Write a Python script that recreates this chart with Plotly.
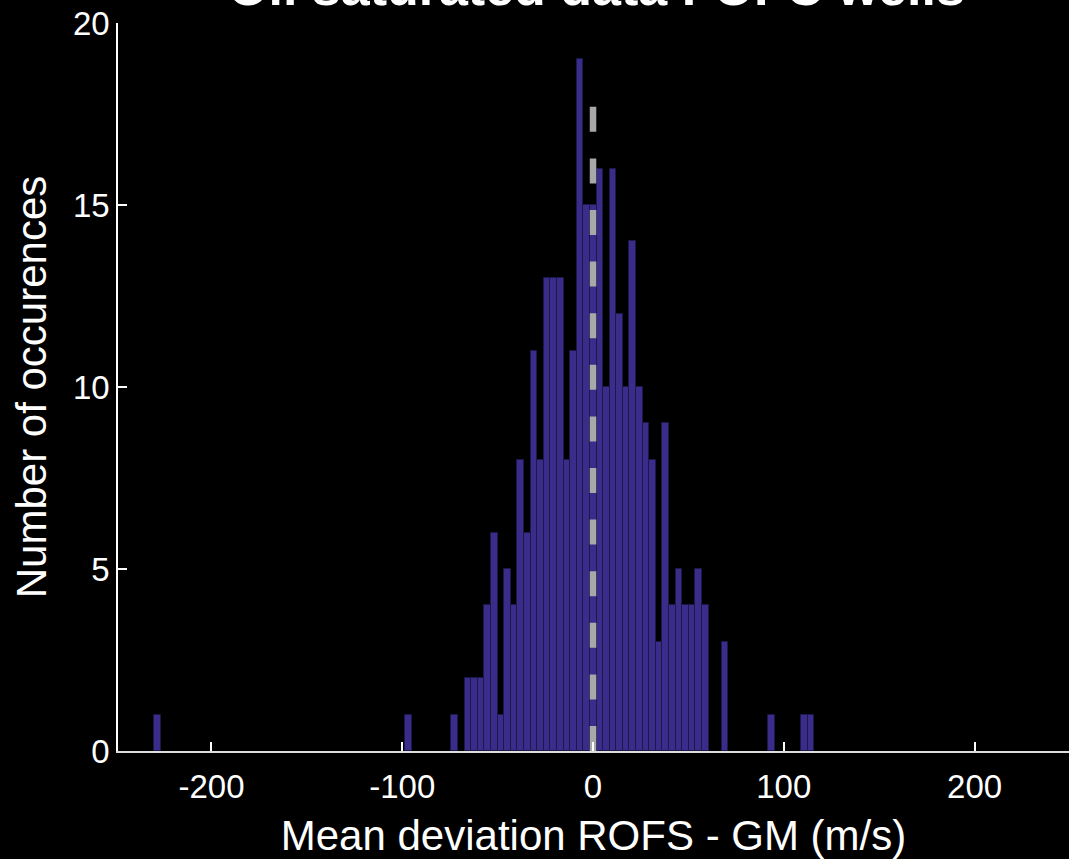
import plotly.graph_objects as go

# ---- data ----
bin_start = -229.93      # left edge of first bin (m/s)
bin_width = 3.459        # histogram bin width (m/s)
counts = [
    1, 0, 0, 0, 0, 0, 0, 0, 0, 0,
    0, 0, 0, 0, 0, 0, 0, 0, 0, 0,
    0, 0, 0, 0, 0, 0, 0, 0, 0, 0,
    0, 0, 0, 0, 0, 0, 0, 0, 1, 0,
    0, 0, 0, 0, 0, 1, 0, 2, 2, 2,
    4, 6, 1, 5, 4, 8, 6, 11, 8, 13,
    13, 13, 8, 11, 19, 15, 15, 16, 10, 16,
    12, 10, 14, 10, 9, 8, 3, 9, 4, 5,
    4, 4, 5, 4, 0, 0, 3, 0, 0, 0,
    0, 0, 0, 1, 0, 0, 0, 0, 1, 1,
]
ref_x = [0, 0]
ref_y = [0, 17.7]
x_ticks = [-200, -100, 0, 100, 200]
x_tick_labels = ["-200", "-100", "0", "100", "200"]
y_ticks = [0, 5, 10, 15, 20]
title_text = "Oil saturated data FOFC wells"
x_title = "Mean deviation ROFS - GM (m/s)"
y_title = "Number of occurences"

centers = [bin_start + bin_width * (k + 0.5) for k in range(len(counts))]
edge_widths = [1 if c > 0 else 0 for c in counts]

FONT = "Liberation Sans, Arial, sans-serif"

fig = go.Figure()
fig.add_trace(go.Bar(
    x=centers, y=counts, width=bin_width,
    marker=dict(color="#392c8a", line=dict(color="#1c1848", width=edge_widths)),
    showlegend=False,
))
fig.add_trace(go.Scatter(
    x=ref_x, y=ref_y, mode="lines",
    line=dict(color="#a8a8a8", width=6.5, dash="25px,26.6px"),
    showlegend=False,
))

fig.update_layout(
    width=1069, height=859,
    margin=dict(l=118, r=0, t=23, b=108),
    paper_bgcolor="black", plot_bgcolor="black",
    bargap=0,
    font=dict(family=FONT, color="white"),
    xaxis=dict(
        range=[-249.0, 249.5], showgrid=False, zeroline=False,
        showline=True, linecolor="#dddddd", linewidth=1.5, layer="above traces",
        ticks="inside", ticklen=9, tickcolor="white", tickwidth=1.5,
        tickvals=x_ticks, ticktext=x_tick_labels, ticklabelstandoff=6,
        tickfont=dict(size=33, color="white", family=FONT),
        title=dict(text=x_title, font=dict(size=42, color="white", family=FONT), standoff=21),
    ),
    yaxis=dict(
        range=[0, 20], showgrid=False, zeroline=False,
        showline=True, linecolor="white", linewidth=1.5, layer="above traces",
        ticks="inside", ticklen=9, tickcolor="white", tickwidth=1.5,
        tickvals=y_ticks,
        tickfont=dict(size=33, color="white", family=FONT),
        title=dict(text=y_title, font=dict(size=42, color="white", family=FONT), standoff=13),
    ),
    annotations=[dict(
        text="<b>" + title_text + "</b>", xref="paper", yref="paper",
        x=(596 - 118) / 951, y=1 + (23 + 13) / 728, xanchor="center", yanchor="middle",
        showarrow=False, font=dict(size=52, color="white", family=FONT),
    )],
)

fig.write_html("out.html")
